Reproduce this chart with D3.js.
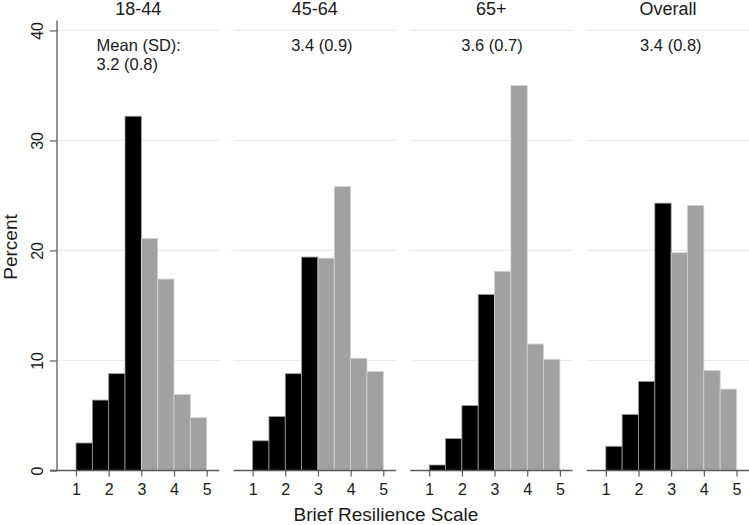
<!DOCTYPE html>
<html><head><meta charset="utf-8">
<script src="https://cdn.jsdelivr.net/npm/d3@7"></script>
<style>
html,body{margin:0;padding:0;background:#fff;}
svg{display:block;font-family:"Liberation Sans",Arial,Helvetica,sans-serif;}
</style></head>
<body>
<svg id="chart" width="749" height="525"></svg>
<script>
const panels = ["18-44", "45-64", "65+", "Overall"];
const meanLabels = [["Mean (SD):", "3.2 (0.8)"], ["3.4 (0.9)"], ["3.6 (0.7)"], ["3.4 (0.8)"]];
const labelAnchorX = [1.63, 2.18, 1.98, 2.05];
const binStarts = [1, 1.5, 2, 2.5, 3, 3.5, 4, 4.5];
const binWidth = 0.5;
const values = [
  [2.5, 6.4, 8.8, 32.2, 21.1, 17.4, 6.9, 4.8],
  [2.7, 4.9, 8.8, 19.4, 19.3, 25.8, 10.2, 9.0],
  [0.5, 2.9, 5.9, 16.0, 18.1, 35.0, 11.5, 10.1],
  [2.2, 5.1, 8.1, 24.3, 19.8, 24.1, 9.1, 7.4]
];
const xTicks = [1, 2, 3, 4, 5];
const yTicks = [0, 10, 20, 30, 40];

const svg = d3.select("#chart");
const panelLeft = 57, panelStep = 176.6, panelW = 162.3;
const y = d3.scaleLinear().domain([0, 40.9]).range([470.5, 20.5]);
const x = d3.scaleLinear().domain([0.418, 5.386]).range([0, panelW]);
const axisColor = "#5a5a5a";

// y axis
const yAxis = d3.axisLeft(y).tickValues(yTicks).tickSize(7).tickFormat(d3.format("d"));
const yg = svg.append("g").attr("transform", `translate(${panelLeft},0)`).call(yAxis);
yg.select(".domain").attr("stroke", axisColor).attr("stroke-width", 1.3).attr("d", `M0,${y.range()[1]}V${y(0)}`);
yg.selectAll(".tick line").attr("stroke", axisColor).attr("stroke-width", 1.2);
yg.selectAll(".tick text").attr("font-size", 16).attr("fill", "#1a1a1a")
  .attr("x", 0).attr("y", 0).attr("dy", 0).attr("text-anchor", "middle")
  .attr("transform", "translate(-14,0) rotate(-90)");

panels.forEach((name, i) => {
  const g = svg.append("g").attr("transform", `translate(${panelLeft + i * panelStep},0)`);
  // gridlines
  g.append("g").selectAll("line").data(yTicks.filter(t => t > 0)).join("line")
    .attr("x1", i === 0 ? 1 : 0).attr("x2", panelW)
    .attr("y1", d => y(d)).attr("y2", d => y(d))
    .attr("stroke", "#e3edf2").attr("stroke-width", 1.2);
  // bars
  g.append("g").selectAll("rect").data(values[i].map((v, j) => ({v, s: binStarts[j]}))).join("rect")
    .attr("x", d => x(d.s))
    .attr("width", d => x(d.s + binWidth) - x(d.s))
    .attr("y", d => y(d.v))
    .attr("height", d => y(0) - y(d.v))
    .attr("fill", d => d.s < 3 ? "#000000" : "#a1a1a1")
    .attr("stroke", d => d.s < 3 ? "#9a9a9a" : "#d2d2d2")
    .attr("stroke-width", 0.8);
  // x axis
  const xg = g.append("g").attr("transform", `translate(0,${y(0)})`)
    .call(d3.axisBottom(x).tickValues(xTicks).tickSize(6).tickFormat(d3.format("d")));
  xg.select(".domain").attr("stroke", axisColor).attr("stroke-width", 1.3)
    .attr("d", `M${i === 0 ? -7 : 0},0H${panelW}`);
  xg.selectAll(".tick line").attr("stroke", axisColor).attr("stroke-width", 1.2);
  xg.selectAll(".tick text").attr("font-size", 16).attr("fill", "#1a1a1a").attr("y", 10).attr("dy", "0.9em");
  // title
  g.append("text").attr("x", panelW / 2).attr("y", 14.5).attr("text-anchor", "middle")
    .attr("font-size", 18).attr("fill", "#1a1a1a").text(name);
  // mean labels
  const t = g.append("text").attr("font-size", 16.5).attr("fill", "#1a1a1a");
  meanLabels[i].forEach((line, k) => {
    t.append("tspan").attr("x", x(labelAnchorX[i])).attr("y", 50.5 + k * 19).text(line);
  });
});

// axis titles
svg.append("text").attr("transform", "translate(17,247) rotate(-90)").attr("text-anchor", "middle")
  .attr("font-size", 19).attr("fill", "#1a1a1a").text("Percent");
svg.append("text").attr("x", 386).attr("y", 520.5).attr("text-anchor", "middle")
  .attr("font-size", 19).attr("fill", "#1a1a1a").text("Brief Resilience Scale");
</script>
</body></html>
